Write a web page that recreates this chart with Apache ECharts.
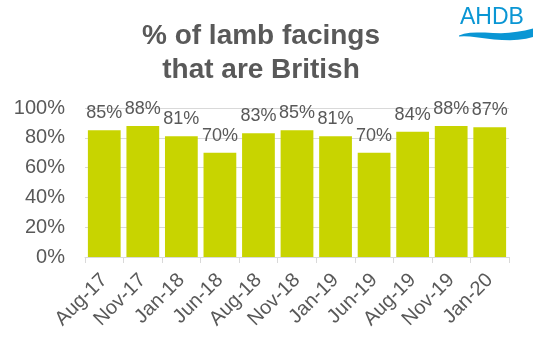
<!DOCTYPE html>
<html>
<head>
<meta charset="utf-8">
<script src="https://cdn.jsdelivr.net/npm/echarts@6/dist/echarts.min.js"></script>
<style>
  html, body { margin: 0; padding: 0; background: #fff; }
  #chart { width: 533px; height: 348px; }
</style>
</head>
<body>
<div id="chart"></div>
<script>
// Survey months
const categories = ['Aug-17', 'Nov-17', 'Jan-18', 'Jun-18', 'Aug-18', 'Nov-18', 'Jan-19', 'Jun-19', 'Aug-19', 'Nov-19', 'Jan-20'];
// Share of lamb facings that are British (%)
const britishShare = [85, 88, 81, 70, 83, 85, 81, 70, 84, 88, 87];
// Value axis ticks
const yTicks = [0, 20, 40, 60, 80, 100];

const grey = '#595959';
const font = '"Liberation Sans", Arial, sans-serif';

// Logo swoosh outline: upper edge left to right, then lower edge back
const swoosh = [
  [459, 35.5], [464, 33.8], [470, 32.8], [477, 32.4], [485, 32.6], [493, 33], [501, 33.2],
  [509, 32.8], [517, 31.8], [525, 30.4], [533, 28.5],
  [533, 37], [526, 38.8], [518, 39.8], [510, 40.2], [502, 40], [494, 39.4],
  [486, 38.4], [478, 37.4], [470, 36.6], [464, 36.3], [459, 36.4]
];

const chart = echarts.init(document.getElementById('chart'), null, { renderer: 'canvas' });

chart.setOption({
  animation: false,
  backgroundColor: '#ffffff',
  title: {
    text: '% of lamb facings\nthat are British',
    left: 256,
    top: 14,
    textAlign: 'center',
    textStyle: {
      color: grey,
      fontFamily: font,
      fontSize: 28,
      fontWeight: 'bold',
      lineHeight: 34
    }
  },
  grid: { left: 85, right: 24, top: 108, bottom: 91, containLabel: false },
  xAxis: {
    type: 'category',
    data: categories,
    axisLine: { lineStyle: { color: '#d9d9d9', width: 1 } },
    axisTick: { show: true, length: 6, lineStyle: { color: '#d9d9d9' } },
    axisLabel: {
      rotate: 45,
      margin: 20,
      color: grey,
      fontFamily: font,
      fontSize: 20,
      interval: 0
    }
  },
  yAxis: {
    type: 'value',
    min: yTicks[0],
    max: yTicks[yTicks.length - 1],
    interval: yTicks[1] - yTicks[0],
    axisLine: { show: false },
    axisTick: { show: false },
    splitLine: { lineStyle: { color: '#d9d9d9', width: 1 } },
    axisLabel: {
      margin: 20,
      color: grey,
      fontFamily: font,
      fontSize: 20,
      formatter: '{value}%'
    }
  },
  series: [{
    type: 'bar',
    data: britishShare,
    barCategoryGap: '15%',
    itemStyle: { color: '#c8d400' },
    label: {
      show: true,
      position: 'top',
      distance: 8,
      color: grey,
      fontFamily: font,
      fontSize: 18,
      formatter: '{c}%'
    }
  }],
  graphic: [
    {
      type: 'text',
      x: 460,
      y: 6,
      style: {
        text: 'AHDB',
        fill: '#0a96d4',
        font: '23px "Liberation Sans", Arial, sans-serif'
      }
    },
    {
      type: 'polygon',
      shape: { points: swoosh },
      style: { fill: '#0a96d4' }
    }
  ]
});
</script>
</body>
</html>
